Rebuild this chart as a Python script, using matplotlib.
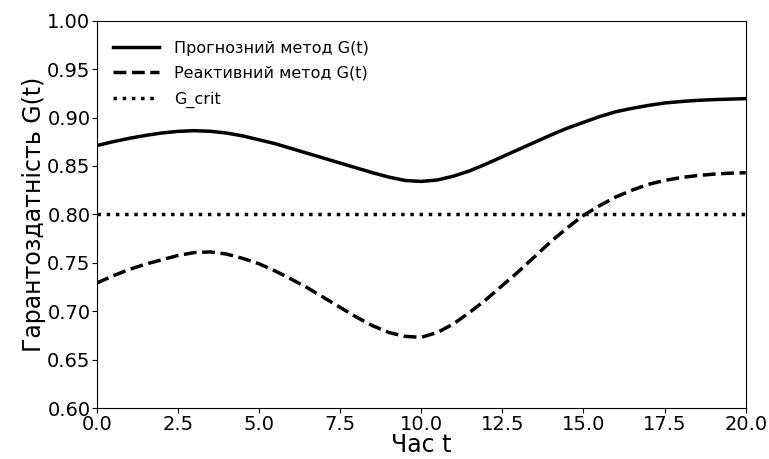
import numpy as np
import matplotlib
matplotlib.use("Agg")
import matplotlib.pyplot as plt

plt.rcParams['font.family'] = ['DejaVu Sans']

t = [0.0, 0.5, 1.0, 1.5, 2.0, 2.5, 3.0, 3.5, 4.0, 4.5, 5.0, 5.5, 6.0, 6.5, 7.0, 7.5,
     8.0, 8.5, 9.0, 9.5, 10.0, 10.5, 11.0, 11.5, 12.0, 12.5, 13.0, 13.5, 14.0, 14.5,
     15.0, 15.5, 16.0, 16.5, 17.0, 17.5, 18.0, 18.5, 19.0, 19.5, 20.0]

g_predictive = [0.871, 0.875, 0.8785, 0.8815, 0.884, 0.8857, 0.8864, 0.8858, 0.884, 0.881,
                0.877, 0.873, 0.868, 0.863, 0.858, 0.853, 0.848, 0.843, 0.8385, 0.835,
                0.834, 0.8355, 0.8395, 0.845, 0.852, 0.8595, 0.867, 0.8745, 0.882, 0.889,
                0.895, 0.901, 0.906, 0.9095, 0.9125, 0.915, 0.9165, 0.9177, 0.9185, 0.919,
                0.9195]

g_reactive = [0.729, 0.7365, 0.743, 0.7485, 0.753, 0.7575, 0.7605, 0.7612, 0.759, 0.7545,
              0.749, 0.7415, 0.733, 0.724, 0.714, 0.704, 0.694, 0.685, 0.678, 0.674,
              0.673, 0.678, 0.687, 0.699, 0.712, 0.7265, 0.741, 0.7565, 0.772, 0.786,
              0.799, 0.809, 0.818, 0.825, 0.831, 0.835, 0.838, 0.840, 0.8415, 0.8425,
              0.843]

g_crit = 0.80

labels = ["Прогнозний метод G(t)", "Реактивний метод G(t)", "G_crit"]
xlabel = "Час t"
ylabel = "Гарантоздатність G(t)"

fig = plt.figure(figsize=(7.69, 4.59), dpi=100)
ax = fig.add_axes([96.7 / 769, (459 - 408.0) / 459, 649.0 / 769, 387.3 / 459])

ax.plot(t, g_predictive, color="black", lw=2.5, ls="-", label=labels[0])
ax.plot(t, g_reactive, color="black", lw=2.5, ls="--", label=labels[1])
ax.axhline(g_crit, color="black", lw=2.5, ls=":", label=labels[2])

ax.set_xlim(0, 20)
ax.set_ylim(0.60, 1.00)
ax.set_xticks(np.arange(0, 20.01, 2.5))
ax.set_yticks(np.arange(0.60, 1.001, 0.05))
ax.xaxis.set_major_formatter(matplotlib.ticker.FormatStrFormatter("%.1f"))
ax.yaxis.set_major_formatter(matplotlib.ticker.FormatStrFormatter("%.2f"))
ax.tick_params(axis="y", labelsize=14, pad=1)
ax.tick_params(axis="x", labelsize=14, pad=1.5)
ax.set_xlabel(xlabel, fontsize=17, labelpad=-1)
ax.set_ylabel(ylabel, fontsize=17, labelpad=1)

ax.legend(loc="upper left", bbox_to_anchor=(0.0, 0.99), fontsize=11.5, frameon=False,
          handlelength=2.9, handletextpad=0.95, labelspacing=0.65, borderaxespad=0.6)

fig.savefig("out.png", dpi=100)
